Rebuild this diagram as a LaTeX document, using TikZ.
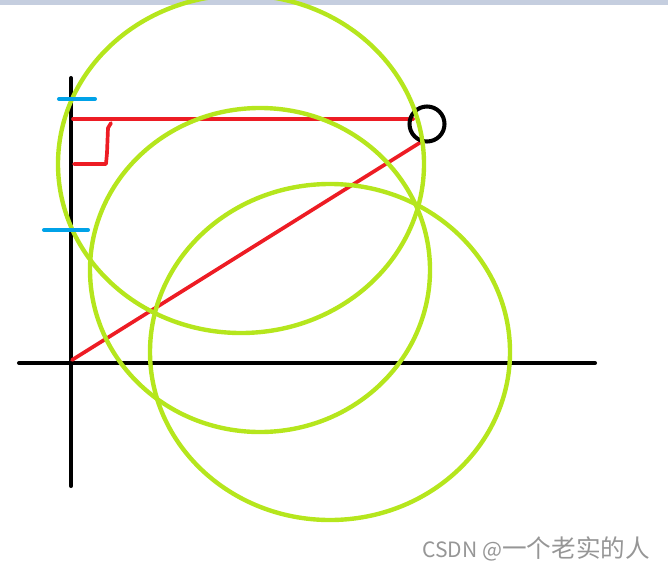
\documentclass[tikz,border=0pt]{standalone}
\usepackage{fontspec}
\newfontfamily\cjk{Noto Sans CJK SC}
\usetikzlibrary{positioning}
\definecolor{paintlime}{RGB}{181,230,29}
\definecolor{paintred}{RGB}{237,28,36}
\definecolor{paintblue}{RGB}{0,162,232}
\definecolor{barblue}{RGB}{197,206,223}
\definecolor{markgray}{RGB}{150,150,150}

\begin{document}
\begin{tikzpicture}[x=0.02cm, y=-0.02cm,
                axisline/.style={draw=black, line width=2.3pt, line cap=round},
                tickline/.style={draw=paintblue, line width=2.3pt, line cap=round},
                redline/.style={draw=paintred, line width=2.1pt, line cap=round, line join=round},
                ring/.style={draw=paintlime, line width=2.5pt},
                wm/.style={font=\cjk\fontsize{12}{14}\selectfont, text=markgray, inner sep=0pt, anchor=base west}
            ]
                \useasboundingbox (0,0) rectangle (668,571);
                % Top bar
                \fill[barblue] (0,0) rectangle (668,5);

                % Axes
                \coordinate (O) at (71,363);
                \coordinate (ytop) at (71,78);
                \coordinate (ybot) at (71,486);
                \coordinate (xleft) at (19,363);
                \coordinate (xright) at (595,363);
                \draw[axisline] (ytop) -- (ybot);
                \draw[axisline] (xleft) -- (xright);

                % Red lines
                \coordinate (hstart) at (73,119);
                \coordinate (hend) at (413,119);
                \coordinate (dstart) at (72,360);
                \coordinate (dend) at (421,142);
                \draw[redline] (hstart) -- (hend);
                \draw[redline] (dstart) -- (dend);
                \coordinate (r1) at (111,123);
                \coordinate (r2) at (108,128);
                \coordinate (r3) at (107,153);
                \coordinate (r4) at (106,164);
                \coordinate (r5) at (74,164);
                \draw[redline] (r1) -- (r2) -- (r3) -- (r4) -- (r5);

                % Black circle
                \coordinate (P) at (427,124);
                \draw[black, line width=2.3pt] (P) circle [radius=17.5];

                % Green circles
                \coordinate (c1) at (241,164);
                \coordinate (c2) at (260,270);
                \coordinate (c3) at (330,352);
                \draw[ring] (c1) ellipse [x radius=183, y radius=169];
                \draw[ring] (c2) ellipse [x radius=170, y radius=162];
                \draw[ring] (c3) ellipse [x radius=180, y radius=168];

                % Blue ticks
                \coordinate (t1l) at (59,99);
                \coordinate (t1r) at (95,99);
                \coordinate (t2l) at (44,230);
                \coordinate (t2r) at (88,230);
                \draw[tickline] (t1l) -- (t1r);
                \draw[tickline] (t2l) -- (t2r);

                % Watermark
                \node[wm] (mark) at (422,557) {CSDN @{\fontsize{14}{16}\selectfont 一个老实的人}};

            \end{tikzpicture}
\end{document}
